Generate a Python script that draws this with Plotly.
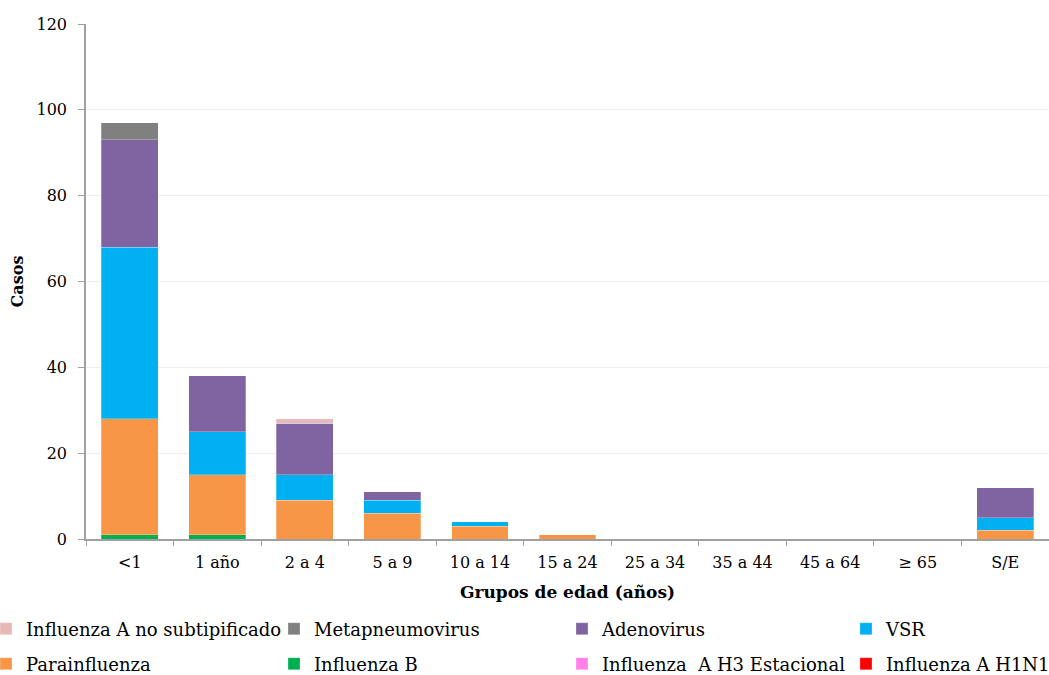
import plotly.graph_objects as go

categories = ["<1", "1 año", "2 a 4", "5 a 9", "10 a 14", "15 a 24", "25 a 34", "35 a 44", "45 a 64", "≥ 65", "S/E"]

h1n1 = [0, 0, 0, 0, 0, 0, 0, 0, 0, 0, 0]
h3 = [0, 0, 0, 0, 0, 0, 0, 0, 0, 0, 0]
flu_b = [1, 1, 0, 0, 0, 0, 0, 0, 0, 0, 0]
parainfluenza = [27, 14, 9, 6, 3, 1, 0, 0, 0, 0, 2]
vsr = [40, 10, 6, 3, 1, 0, 0, 0, 0, 0, 3]
adenovirus = [25, 13, 12, 2, 0, 0, 0, 0, 0, 0, 7]
metapneumo = [4, 0, 0, 0, 0, 0, 0, 0, 0, 0, 0]
flu_a_nosub = [0, 0, 1, 0, 0, 0, 0, 0, 0, 0, 0]

series_names = ["Influenza A H1N1", "Influenza  A H3 Estacional", "Influenza B", "Parainfluenza",
                "VSR", "Adenovirus", "Metapneumovirus", "Influenza A no subtipificado"]
series_values = [h1n1, h3, flu_b, parainfluenza, vsr, adenovirus, metapneumo, flu_a_nosub]
series_colors = ["#FF0000", "#FF80E8", "#00B050", "#F79646", "#00B0F0", "#8064A2", "#808080", "#E6B9B8"]

FONT = "DejaVu Serif, Liberation Serif, serif"

# Figure geometry (page body margin removed by post_script)
FIG_W, FIG_H = 1049, 675
ML, MR, MT, MB = 86, 0, 24, 136
plot_left = ML
plot_top = MT
plot_w = FIG_W - ML - MR
plot_h = FIG_H - MT - MB

# legend slot positions (left edge of legend box, row centre) in pixels
legend_slots = {
    "Influenza A no subtipificado": (-14, 629),
    "Metapneumovirus": (274, 629),
    "Adenovirus": (562, 629),
    "VSR": (846, 629),
    "Parainfluenza": (-14, 664),
    "Influenza B": (274, 664),
    "Influenza  A H3 Estacional": (562, 664),
    "Influenza A H1N1": (846, 664),
}

fig = go.Figure()
legend_layout = {}
for i, (name, vals, color) in enumerate(zip(series_names, series_values, series_colors)):
    key = "legend" if i == 0 else f"legend{i + 1}"
    fig.add_trace(go.Bar(
        x=categories, y=vals, name=name, legend=key, showlegend=True,
        marker=dict(color=color, line=dict(color="rgba(255,255,255,0.5)", width=0.5)),
    ))
    px, py = legend_slots[name]
    legend_layout[key] = dict(
        orientation="h",
        xref="paper", yref="paper",
        xanchor="left", yanchor="middle",
        x=(px - plot_left) / plot_w,
        y=1 - (py - plot_top) / plot_h,
        itemwidth=30,
        font=dict(family=FONT, size=18),
        bgcolor="rgba(0,0,0,0)",
    )

fig.update_layout(
    showlegend=True,
    barmode="stack",
    bargap=0.35,
    width=FIG_W, height=FIG_H,
    paper_bgcolor="white", plot_bgcolor="white",
    margin=dict(l=ML, r=MR, t=MT, b=MB, autoexpand=False),
    font=dict(family=FONT, size=16, color="#000000"),
    xaxis=dict(
        showline=True, linecolor="#A0A0A0", linewidth=1.5,
        ticks="outside", tickson="boundaries", ticklen=5, tickcolor="#A0A0A0",
        ticklabelstandoff=8,
        title=dict(text="<b>Grupos de edad (años)</b>", font=dict(size=17), standoff=15),
        tickfont=dict(size=16),
    ),
    yaxis=dict(
        range=[0, 120], dtick=20,
        showline=True, linecolor="#A0A0A0", linewidth=1.5,
        ticks="outside", ticklen=6, tickcolor="#A0A0A0",
        ticklabelstandoff=8,
        showgrid=True, gridcolor="#EFEFEF", gridwidth=1,
        title=dict(text="<b>Casos</b>", font=dict(size=16), standoff=9),
        tickfont=dict(size=16),
        zeroline=False,
    ),
    **legend_layout,
)

fig.write_html(
    "out.html",
    config={"displayModeBar": False},
    post_script="document.body.style.margin='0px';document.documentElement.style.overflow='hidden';",
)
